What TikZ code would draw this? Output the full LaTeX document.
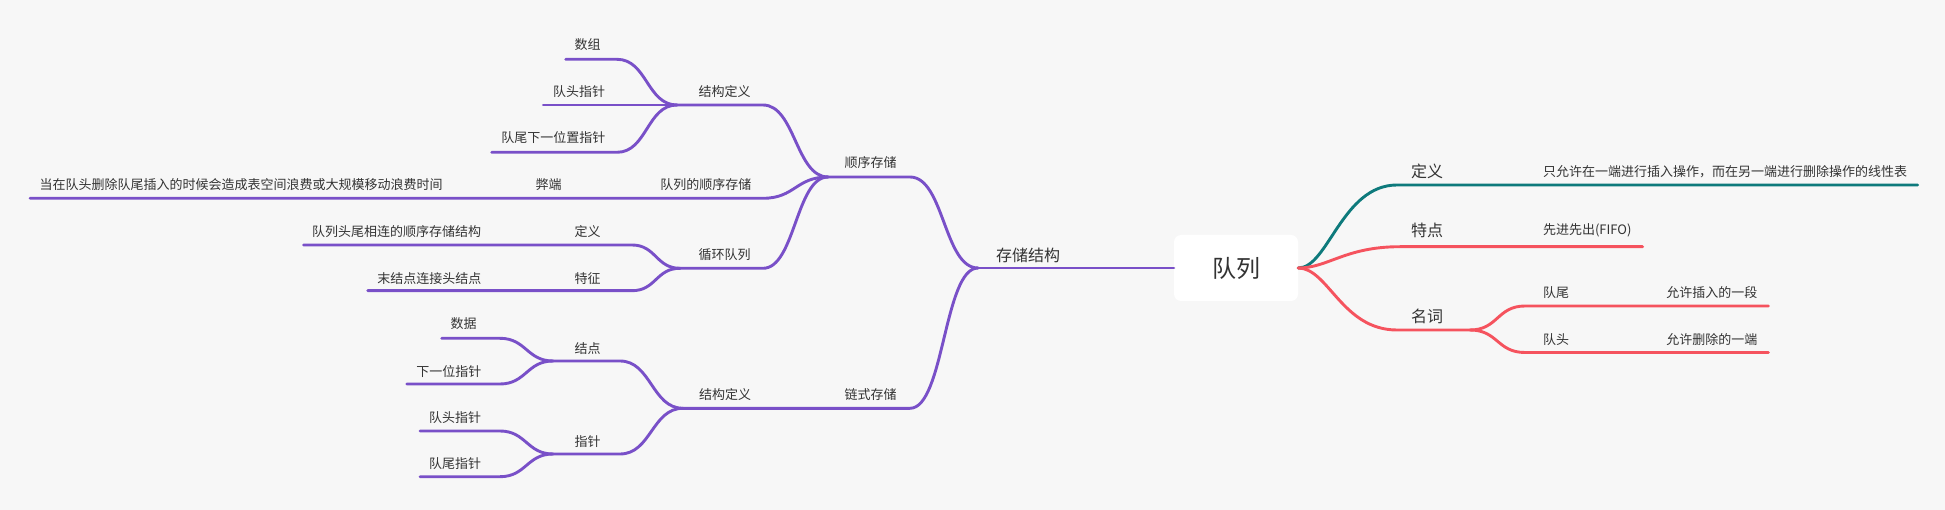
\documentclass[tikz,border=0pt]{standalone}
\usepackage{fontspec}
\setmainfont{Noto Sans CJK SC}
\definecolor{bg}{RGB}{247,247,247}
\definecolor{txt}{RGB}{51,51,51}
\definecolor{purp}{RGB}{121,80,200}
\definecolor{teal2}{RGB}{14,122,124}
\definecolor{coral}{RGB}{245,83,94}
\tikzset{
  lbl/.style={inner sep=0pt, anchor=west, text=txt, font=\fontsize{13}{15}\selectfont},
  lblb/.style={inner sep=0pt, anchor=west, text=txt, font=\fontsize{16}{18}\selectfont},
  pbr/.style={draw=purp, line width=2.9pt, line cap=round},
  tbr/.style={draw=teal2, line width=2.9pt, line cap=round},
  rbr/.style={draw=coral, line width=2.9pt, line cap=round},
}
\begin{document}
\begin{tikzpicture}[x=1pt,y=-1pt]
\fill[bg] (0,0) rectangle (1945,510);
\useasboundingbox (0,0) rectangle (1945,510);

% root
\node[fill=white, rounded corners=7pt, minimum width=124pt, minimum height=66pt, inner sep=0pt, text=txt, font=\fontsize{24}{28}\selectfont] (root) at (1236,268) {队列};

% ---------- left side coordinates ----------
\coordinate (J0) at (978,268);
\coordinate (J1) at (828,177);
\coordinate (a1) at (910,177);
\coordinate (J2) at (677,105);
\coordinate (a2) at (763,105);
\coordinate (sz1) at (617,59.3);
\coordinate (sz0) at (565.7,59.3);
\coordinate (dt0) at (543.3,105);
\coordinate (dw1) at (617,152.3);
\coordinate (dw0) at (491.7,152.3);
\coordinate (sx1) at (763,198.3);
\coordinate (sx0) at (30,198.3);
\coordinate (J3) at (680,268.3);
\coordinate (a3) at (763,268.3);
\coordinate (dy1) at (632,245);
\coordinate (dy0) at (303.6,245);
\coordinate (tz1) at (632,290.7);
\coordinate (tz0) at (367.7,290.7);
\coordinate (Jc) at (683,408.3);
\coordinate (ac) at (910,408.3);
\coordinate (J4) at (553,361);
\coordinate (a4) at (620,361);
\coordinate (sj1) at (500,338.3);
\coordinate (sj0) at (441.7,338.3);
\coordinate (xp1) at (500,384);
\coordinate (xp0) at (406.7,384);
\coordinate (J5) at (553,454);
\coordinate (a5) at (620,454);
\coordinate (tt1) at (500,431);
\coordinate (tt0) at (420,431);
\coordinate (wt1) at (500,476.7);
\coordinate (wt0) at (420,476.7);

% ---------- right side coordinates ----------
\coordinate (d1) at (1397,185);
\coordinate (d0) at (1917.7,185);
\coordinate (t1) at (1400,246.7);
\coordinate (t0) at (1642.7,246.7);
\coordinate (m1) at (1397,330);
\coordinate (J6) at (1470,330);
\coordinate (w1) at (1525,306);
\coordinate (w0) at (1768.3,306);
\coordinate (h1) at (1525,352.5);
\coordinate (h0) at (1768.3,352.5);

% ---------- left connectors ----------
\draw[pbr] (J0) -- (root.west);
\draw[pbr] (J1) -- (a1) .. controls +(34,0) and +(-34,0) .. (J0);
\draw[pbr] (Jc) -- (ac) .. controls +(34,0) and +(-34,0) .. (J0);
\draw[pbr] (J2) -- (a2) .. controls +(32,0) and +(-32,0) .. (J1);
\draw[pbr] (J1) .. controls +(-32,0) and +(32,0) .. (sx1) -- (sx0);
\draw[pbr] (J3) -- (a3) .. controls +(32,0) and +(-32,0) .. (J1);
\draw[pbr] (J2) .. controls +(-30,0) and +(30,0) .. (sz1) -- (sz0);
\draw[pbr] (J2) -- (dt0);
\draw[pbr] (J2) .. controls +(-30,0) and +(30,0) .. (dw1) -- (dw0);
\draw[pbr] (J3) .. controls +(-24,0) and +(24,0) .. (dy1) -- (dy0);
\draw[pbr] (J3) .. controls +(-24,0) and +(24,0) .. (tz1) -- (tz0);
\draw[pbr] (J4) -- (a4) .. controls +(31,0) and +(-31,0) .. (Jc);
\draw[pbr] (J5) -- (a5) .. controls +(31,0) and +(-31,0) .. (Jc);
\draw[pbr] (J4) .. controls +(-26,0) and +(26,0) .. (sj1) -- (sj0);
\draw[pbr] (J4) .. controls +(-26,0) and +(26,0) .. (xp1) -- (xp0);
\draw[pbr] (J5) .. controls +(-26,0) and +(26,0) .. (tt1) -- (tt0);
\draw[pbr] (J5) .. controls +(-26,0) and +(26,0) .. (wt1) -- (wt0);

% ---------- right connectors ----------
\draw[tbr] (root.east) .. controls +(30,0) and +(-55,0) .. (d1) -- (d0);
\draw[rbr] (root.east) .. controls +(30,0) and +(-55,0) .. (t1) -- (t0);
\draw[rbr] (root.east) .. controls +(30,0) and +(-55,0) .. (m1) -- (J6);
\draw[rbr] (J6) .. controls +(28,0) and +(-28,0) .. (w1) -- (w0);
\draw[rbr] (J6) .. controls +(28,0) and +(-28,0) .. (h1) -- (h0);

% ---------- left labels ----------
\node[lblb] (Lcc) at (996,255) {存储结构};
\node[lbl] (Lsx) at (844.5,163) {顺序存储};
\node[lbl] (Lls) at (844.5,395) {链式存储};
\node[lbl] (Ljg1) at (698.5,91.7) {结构定义};
\node[lbl] (Lsz) at (574.5,45) {数组};
\node[lbl] (Ldt) at (552.8,91.7) {队头指针};
\node[lbl] (Ldw) at (501.2,138) {队尾下一位置指针};
\node[lbl] (Lsxcc) at (660.2,185) {队列的顺序存储};
\node[lbl] (Lbd) at (535.5,185) {弊端};
\node[lbl] (Lbdt) at (39.5,185) {当在队头删除队尾插入的时候会造成表空间浪费或大规模移动浪费时间};
\node[lbl] (Lxh) at (698.5,255) {循环队列};
\node[lbl] (Ldy) at (574.5,231.7) {定义};
\node[lbl] (Ldyt) at (311.8,231.7) {队列头尾相连的顺序存储结构};
\node[lbl] (Ltz) at (574.5,278.3) {特征};
\node[lbl] (Ltzt) at (377.2,278.3) {末结点连接头结点};
\node[lbl] (Ljg2) at (698.8,395) {结构定义};
\node[lbl] (Ljd) at (574.5,349) {结点};
\node[lbl] (Lsj) at (450.5,324) {数据};
\node[lbl] (Lxp) at (416.2,371.7) {下一位指针};
\node[lbl] (Lzz) at (574.5,441.7) {指针};
\node[lbl] (Ltt) at (428.8,417.3) {队头指针};
\node[lbl] (Lwt) at (428.8,464) {队尾指针};

% ---------- right labels ----------
\node[lblb] (Rdy) at (1411,171.7) {定义};
\node[lbl] (Rdyt) at (1542.8,171.7) {只允许在一端进行插入操作，而在另一端进行删除操作的线性表};
\node[lblb] (Rtd) at (1411,230) {特点};
\node[lbl] (Rtdt) at (1542.8,230) {先进先出(FIFO)};
\node[lblb] (Rmc) at (1411,316.7) {名词};
\node[lbl] (Rdw) at (1542.8,292.7) {队尾};
\node[lbl] (Rdwt) at (1666.2,292.7) {允许插入的一段};
\node[lbl] (Rdt) at (1542.8,340) {队头};
\node[lbl] (Rdtt) at (1666.2,340) {允许删除的一端};
\end{tikzpicture}
\end{document}
